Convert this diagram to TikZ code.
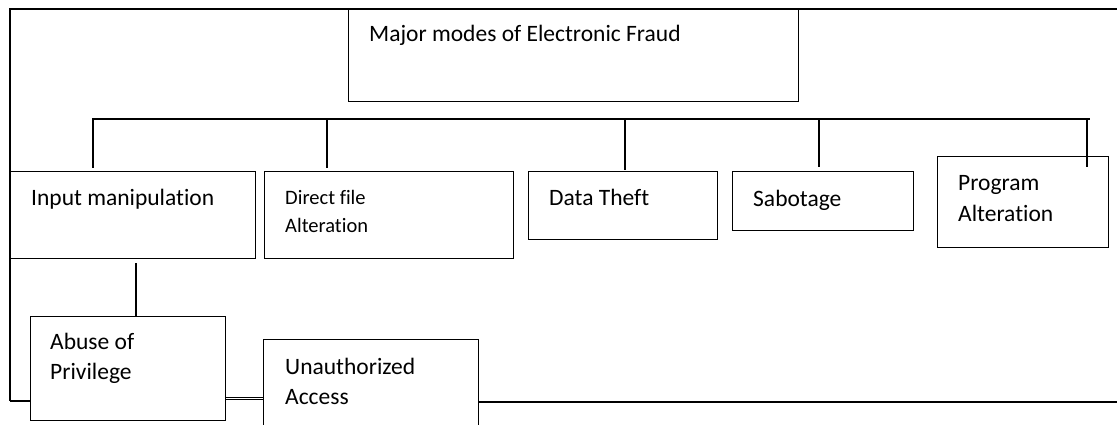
\documentclass[tikz,border=0pt]{standalone}
\usepackage{fontspec}
\setmainfont{Carlito}[Ligatures=NoCommon]
\usetikzlibrary{calc, positioning}

\begin{document}
\begin{tikzpicture}[x=1pt, y=-1pt,
  box/.style 2 args={draw, line width=1.2pt, fill=white, anchor=north west, inner sep=0pt, minimum width=#1, minimum height=#2},
  lbl/.style={anchor=base west, inner sep=0pt, align=left, font=\fontsize{23.5}{30}\selectfont},
  small/.style={font=\fontsize{20.5}{28}\selectfont},
  frame/.style={line width=1.6pt},
  link/.style={line width=1.2pt}]
\useasboundingbox (0,0) rectangle (1117,425);
\clip (0,0) rectangle (1117,425);

% Outer frame
\coordinate (tr) at (1117,9);
\coordinate (tl) at (10,9);
\coordinate (bl) at (10,401);
\coordinate (br) at (1117,402);
\draw[frame] (tr) -- (tl) -- (bl);

% Top box
\node[box={450}{92}] (major) at (348,9) {};
\node[lbl] (majort) at ([shift={(21,33)}]major.north west) {Major modes of Electronic Fraud};

% Bus line
\coordinate (busL) at (92,119);
\coordinate (busR) at (1090,119);
\draw[link] (busL) -- (busR);

% Second level (anchor sits on the last baseline)
\node[box={245}{87}] (input) at (10,171) {};
\node[lbl] (inputt) at ([shift={(21,34)}]input.north west) {Input manipulation};

\node[box={249}{87}] (direct) at (264,171) {};
\node[lbl, small] (directt) at ([shift={(21,61)}]direct.north west) {Direct file\\Alteration};

\node[box={189}{68}] (theft) at (528,171) {};
\node[lbl] (theftt) at ([shift={(21,34)}]theft.north west) {Data Theft};

\node[box={181}{59}] (sabot) at (732,171) {};
\node[lbl] (sabott) at ([shift={(21,35)}]sabot.north west) {Sabotage};

\node[box={171}{91}] (prog) at (937,156) {};
\node[lbl] (progt) at ([shift={(21,66)}]prog.north west) {Program\\[2pt]Alteration};

% Drops from the bus
\draw[link] ([shift={(83,-3)}]input.north west) -- ++(0,-49);
\draw[link] ([shift={(63,-3)}]direct.north west) -- ++(0,-49);
\draw[link] ([shift={(97,-1)}]theft.north west) -- ++(0,-51);
\draw[link] ([shift={(87,-4)}]sabot.north west) -- ++(0,-48);
\draw[link] ([shift={(150,11)}]prog.north west) -- ++(0,-48);

% Third level
\node[box={195}{104}] (abuse) at (30,316) {};
\node[lbl] (abuset) at ([shift={(20,63)}]abuse.north west) {Abuse of\\Privilege};

\node[box={215}{110}] (unauth) at (263,339) {};
\node[lbl] (unautht) at ([shift={(22,65)}]unauth.north west) {Unauthorized\\Access};

\draw[link] ([shift={(126,4)}]input.south west) coordinate (ia) -- (ia |- abuse.north);

% Bottom of the frame
\draw[frame] (bl) -- (bl -| abuse.west);
\draw[line width=0.7pt, double, double distance=1.6pt] (abuse.east |- 0,398.5) -- (unauth.west |- 0,398.5);
\draw[frame] (unauth.east |- br) -- (br);
\end{tikzpicture}
\end{document}
